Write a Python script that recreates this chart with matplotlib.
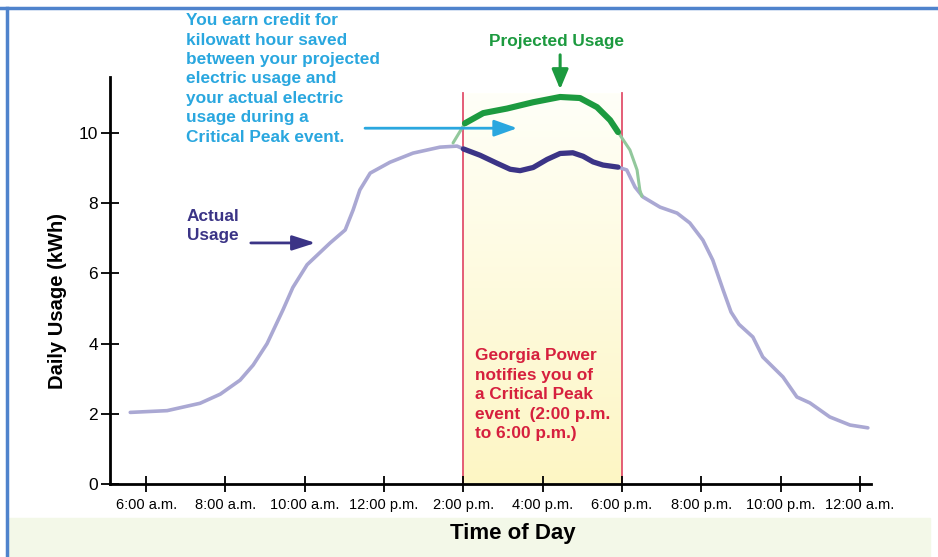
import matplotlib
matplotlib.use("Agg")
import matplotlib.pyplot as plt
import numpy as np
from matplotlib.patches import Rectangle
from matplotlib.lines import Line2D
from matplotlib.colors import LinearSegmentedColormap

# hours of day (24h clock) and kWh
actual_pre_h = [5.6, 6.53, 7.36, 7.87, 8.37, 8.7, 9.05, 9.45, 9.7, 10.06, 10.64,
                11.02, 11.22, 11.39, 11.65, 12.15, 12.73, 13.41, 13.84, 14.0]
actual_pre_v = [2.04, 2.09, 2.3, 2.56, 2.96, 3.39, 4.0, 4.96, 5.6, 6.25, 6.87,
                7.24, 7.81, 8.38, 8.86, 9.17, 9.43, 9.6, 9.63, 9.55]
actual_evt_h = [14.0, 14.42, 14.85, 15.18, 15.43, 15.76, 16.11, 16.44, 16.76, 17.02,
                17.27, 17.52, 17.9]
actual_evt_v = [9.55, 9.37, 9.14, 8.97, 8.93, 9.02, 9.25, 9.42, 9.44, 9.34,
                9.18, 9.09, 9.03]
actual_post_h = [17.9, 18.12, 18.33, 18.53, 18.96, 19.39, 19.71, 20.04, 20.29, 20.55,
                 20.75, 20.95, 21.3, 21.55, 22.06, 22.41, 22.74, 23.24, 23.75, 24.2]
actual_post_v = [9.03, 8.95, 8.46, 8.18, 7.89, 7.72, 7.44, 6.95, 6.38, 5.53,
                 4.9, 4.55, 4.19, 3.62, 3.05, 2.48, 2.31, 1.91, 1.68, 1.6]

proj_pre_h = [13.74, 14.04]
proj_pre_v = [9.72, 10.28]
proj_evt_h = [14.04, 14.5, 15.1, 15.76, 16.44, 16.94, 17.37, 17.7, 17.9]
proj_evt_v = [10.28, 10.57, 10.7, 10.88, 11.03, 11.0, 10.74, 10.37, 10.03]
proj_post_h = [17.9, 18.2, 18.38, 18.45, 18.5]
proj_post_v = [10.03, 9.52, 8.95, 8.38, 8.2]

event_start, event_end = 14, 18
tick_hours = [6, 8, 10, 12, 14, 16, 18, 20, 22, 24]
tick_labels = ["6:00 a.m.", "8:00 a.m.", "10:00 a.m.", "12:00 p.m.", "2:00 p.m.",
               "4:00 p.m.", "6:00 p.m.", "8:00 p.m.", "10:00 p.m.", "12:00 a.m."]
y_ticks = [0, 2, 4, 6, 8, 10]

plt.rcParams['font.family'] = ['Liberation Sans', 'DejaVu Sans']

fig = plt.figure(figsize=(9.38, 5.57), dpi=100)
# pale green band at bottom + blue frame
fig.patches.append(Rectangle((0.008, 0.0), 0.984, 0.07, transform=fig.transFigure,
                             color="#f3f8e8", zorder=-2))
fig.add_artist(Line2D([0, 1], [0.986, 0.986], color="#4f83cc", lw=2.5))
fig.add_artist(Line2D([0.0075, 0.0075], [0, 0.986], color="#4f83cc", lw=2.5))

ax = fig.add_axes([0.1173, 0.1311, 0.8113, 0.7307])
ax.set_facecolor("none")
ax.set_xlim(5.09, 24.28)
ax.set_ylim(0, 11.6)

# event shading (white -> pale yellow) and red boundaries
grad = np.linspace(0, 1, 256).reshape(-1, 1)
cmap = LinearSegmentedColormap.from_list("ev", ["#fffff8", "#fdf6c4"])
ax.imshow(grad, cmap=cmap, aspect="auto", origin="upper",
          extent=[event_start, event_end, 0, 11.14], zorder=0)
for h in (event_start, event_end):
    ax.plot([h, h], [0, 11.14], color="#e2506c", lw=1.3, zorder=1)

# curves
kw = dict(solid_capstyle="round", solid_joinstyle="round")
ax.plot(actual_pre_h, actual_pre_v, color="#aaa8d3", lw=2.6, zorder=2, **kw)
ax.plot(actual_post_h, actual_post_v, color="#aaa8d3", lw=2.6, zorder=2, **kw)
ax.plot(proj_pre_h, proj_pre_v, color="#92c89c", lw=2.2, zorder=2, **kw)
ax.plot(proj_post_h, proj_post_v, color="#92c89c", lw=2.2, zorder=2, **kw)
ax.plot(actual_evt_h, actual_evt_v, color="#3b3486", lw=3.8, zorder=3, **kw)
ax.plot(proj_evt_h, proj_evt_v, color="#1c9a3f", lw=4.4, zorder=3, **kw)

# axes styling
for s in ("top", "right"):
    ax.spines[s].set_visible(False)
for s in ("left", "bottom"):
    ax.spines[s].set_linewidth(2)
ax.set_xticks(tick_hours)
ax.set_xticklabels(tick_labels, fontsize=10.5)
ax.set_yticks(y_ticks)
ax.tick_params(axis="y", direction="inout", length=13, width=1.3, labelsize=12.5, pad=2)
ax.tick_params(axis="x", direction="inout", length=12, width=1.3, pad=4)
ax.set_ylabel("Daily Usage (kWh)", fontsize=14.5, fontweight="bold")
ax.yaxis.set_label_coords(-0.056, 0.45)
ax.set_xlabel("Time of Day", fontsize=16, fontweight="bold")
ax.xaxis.set_label_coords(0.529, -0.095)

bold = dict(fontweight="bold", fontsize=12.4, linespacing=1.37)
ax.text(7.01, 13.42, "You earn credit for\nkilowatt hour saved\nbetween your projected\n"
        "electric usage and\nyour actual electric\nusage during a\nCritical Peak event.",
        color="#2aa7df", va="top", ha="left", **bold)
ax.text(16.36, 12.62, "Projected Usage", color="#1c9a3f", va="center", ha="center", **bold)
ax.text(7.03, 7.85, "Actual\nUsage", color="#3b3486", va="top", ha="left", **bold)
ax.text(14.29, 3.87, "Georgia Power\nnotifies you of\na Critical Peak\nevent  (2:00 p.m.\nto 6:00 p.m.)",
        color="#d6203e", va="top", ha="left", **bold)

ax.annotate("", xy=(15.43, 10.14), xytext=(11.45, 10.14), zorder=5,
            arrowprops=dict(arrowstyle="-|>,head_length=1.4,head_width=0.5",
                            color="#2aa7df", lw=2))
ax.annotate("", xy=(10.34, 6.87), xytext=(8.57, 6.87), zorder=5,
            arrowprops=dict(arrowstyle="-|>,head_length=1.4,head_width=0.45",
                            color="#3b3486", lw=2))
ax.annotate("", xy=(16.44, 11.17), xytext=(16.44, 12.31), zorder=5, annotation_clip=False,
            arrowprops=dict(arrowstyle="-|>,head_length=1.2,head_width=0.5",
                            color="#1c9a3f", lw=2.2))

fig.savefig("out.png", dpi=100)
